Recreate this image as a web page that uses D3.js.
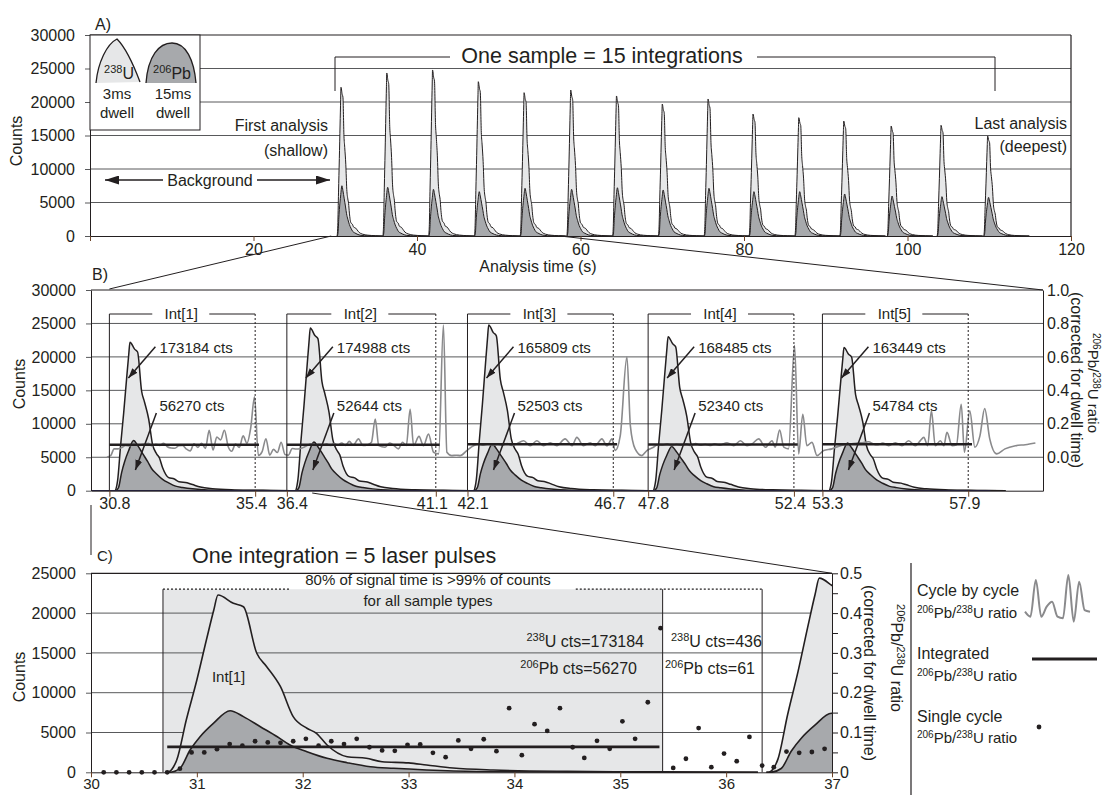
<!DOCTYPE html>
<html>
<head>
<meta charset="utf-8">
<script src="https://cdn.jsdelivr.net/npm/d3@7"></script>
<style>
  body { margin: 0; background: #fff; }
  svg { display: block; font-family: 'Liberation Sans', Arial, sans-serif; }
</style>
</head>
<body>
<svg id="chart" width="1105" height="795"></svg>
<script>
'use strict';

var pulseTimes = [0, 0.02, 0.08, 0.11, 0.2, 0.3, 0.39, 0.46, 0.5, 0.645, 0.74, 0.866, 0.96, 1.09, 1.21, 1.34, 1.43, 1.53, 1.72, 1.9, 2.05, 2.3, 2.47, 2.72, 3.1, 3.8, 4.7, 5.6];
var pulseU = [0, 0, 700, 1540, 6570, 11600, 16620, 20390, 22270, 21230, 20800, 14950, 13270, 10750, 6990, 5530, 4900, 3430, 1960, 1760, 1330, 1180, 920, 540, 290, 120, 50, 0];
var pulsePbTimes = [0, 0.04, 0.14, 0.236, 0.33, 0.456, 0.614, 0.74, 0.9, 1.06, 1.18, 1.34, 1.53, 1.72, 1.94, 2.16, 2.47, 2.95, 3.8, 5.6];
var pulsePb = [0, 0, 500, 2800, 4470, 6150, 7740, 6990, 5730, 4470, 3430, 2590, 1760, 1210, 700, 500, 290, 100, 30, 0];

// panel A: 15 integrations
var aPulseStart = [30.2, 35.8, 41.4, 47.0, 52.6, 58.3, 63.9, 69.5, 75.1, 80.6, 86.2, 91.7, 97.5, 103.6, 109.3];
var aPeakU = [22200, 24330, 24780, 23030, 21390, 21790, 20900, 19700, 20450, 18200, 17660, 17160, 16420, 16520, 14930];
var aPeakPb = [7500, 7270, 6970, 6620, 7120, 6970, 7200, 6870, 7120, 6620, 6620, 6270, 5970, 5870, 5770];

// panel B: first five integrations
var intNames = ['Int[1]', 'Int[2]', 'Int[3]', 'Int[4]', 'Int[5]'];
var intStart = [30.8, 36.4, 42.1, 47.8, 53.3];
var intEnd = [35.4, 41.1, 46.7, 52.4, 57.9];
var bPulseStart = [30.95, 36.64, 42.27, 47.93, 53.48];
var intCountsU = [173184, 174988, 165809, 168485, 163449];
var intCountsPb = [56270, 52644, 52503, 52340, 54784];
var intRatio = [0.075, 0.075, 0.078, 0.076, 0.078];

// single cycle 206Pb/238U ratio [time s, ratio]
var cycleRatios = [
  [30.12, 0], [30.24, 0], [30.36, 0], [30.48, 0], [30.60, 0], [30.72, 0], [30.84, 0.009], [30.95, 0.050],
  [31.07, 0.050], [31.19, 0.058], [31.31, 0.071], [31.43, 0.067], [31.55, 0.078], [31.67, 0.075], [31.79, 0.074],
  [31.91, 0.078], [32.03, 0.084], [32.15, 0.067], [32.27, 0.078], [32.39, 0.071], [32.51, 0.084], [32.63, 0.063],
  [32.75, 0.055], [32.87, 0.054], [32.99, 0.069], [33.11, 0.070], [33.23, 0.049], [33.35, 0.038], [33.47, 0.080],
  [33.59, 0.059], [33.71, 0.083], [33.83, 0.053], [33.95, 0.161], [34.07, 0.043], [34.19, 0.121], [34.31, 0.104],
  [34.43, 0.161], [34.55, 0.063], [34.66, 0.036], [34.78, 0.079], [34.90, 0.059], [35.02, 0.128], [35.14, 0.084],
  [35.26, 0.176], [35.38, 0.362], [35.50, 0.011], [35.62, 0.034], [35.74, 0.111], [35.86, 0.013], [35.98, 0.047],
  [36.10, 0.028], [36.22, 0.089], [36.34, 0.017], [36.45, 0.013], [36.57, 0.052], [36.69, 0.049], [36.81, 0.051],
  [36.93, 0.059], [37.05, 0.072], [37.17, 0.080], [37.29, 0.070], [37.41, 0.078], [37.53, 0.074], [37.65, 0.080],
  [37.77, 0.070], [37.89, 0.082], [38.01, 0.072], [38.13, 0.085], [38.25, 0.070], [38.37, 0.095], [38.49, 0.072],
  [38.66, 0.110], [38.80, 0.070], [38.95, 0.075], [39.07, 0.090], [39.19, 0.228], [39.30, 0.070], [39.50, 0.060],
  [39.65, 0.085], [39.78, 0.070], [39.92, 0.050], [40.05, 0.090], [40.17, 0.070], [40.29, 0.287], [40.40, 0.070],
  [40.57, 0.125], [40.71, 0.069], [40.87, 0.138], [41.03, 0.030], [41.19, 0.020], [41.34, 0.790], [41.45, 0.030],
  [41.60, 0.010], [41.75, 0.012], [41.87, 0.010], [42.08, 0.040], [42.29, 0.069], [42.45, 0.078], [42.60, 0.072],
  [42.75, 0.080], [42.90, 0.070], [43.05, 0.078], [43.20, 0.072], [43.35, 0.082], [43.50, 0.070], [43.65, 0.080],
  [43.87, 0.099], [44.08, 0.069], [44.29, 0.099], [44.50, 0.069], [44.71, 0.087], [44.92, 0.069], [45.18, 0.110],
  [45.40, 0.069], [45.55, 0.119], [45.76, 0.069], [45.97, 0.087], [46.13, 0.069], [46.34, 0.110], [46.50, 0.069],
  [46.66, 0.110], [46.76, 0.040], [46.92, 0.128], [47.13, 0.600], [47.24, 0.188], [47.39, 0.050], [47.60, 0.010],
  [47.76, 0.040], [47.97, 0.060], [48.10, 0.075], [48.25, 0.072], [48.40, 0.080], [48.55, 0.070], [48.70, 0.078],
  [48.85, 0.072], [49.00, 0.080], [49.15, 0.070], [49.30, 0.082], [49.45, 0.072], [49.60, 0.078], [49.75, 0.070],
  [49.90, 0.080], [50.05, 0.072], [50.29, 0.087], [50.50, 0.069], [50.71, 0.099], [50.92, 0.069], [51.08, 0.080],
  [51.29, 0.110], [51.50, 0.060], [51.71, 0.099], [51.81, 0.060], [51.95, 0.162], [52.08, 0.060], [52.23, 0.050],
  [52.42, 0.669], [52.55, 0.020], [52.68, 0.257], [52.81, 0.069], [52.97, 0.089], [53.13, 0.010], [53.34, 0.040],
  [53.60, 0.050], [53.80, 0.065], [54.00, 0.075], [54.20, 0.080], [54.40, 0.085], [54.60, 0.088], [54.76, 0.093],
  [54.90, 0.080], [55.05, 0.075], [55.20, 0.085], [55.39, 0.069], [55.60, 0.087], [55.81, 0.069], [56.02, 0.099],
  [56.23, 0.069], [56.39, 0.099], [56.50, 0.119], [56.62, 0.069], [56.74, 0.277], [56.86, 0.069], [57.02, 0.099],
  [57.13, 0.069], [57.23, 0.149], [57.39, 0.069], [57.53, 0.075], [57.68, 0.317], [57.78, 0.030], [57.95, 0.277],
  [58.11, 0.060], [58.27, 0.128], [58.42, 0.291], [58.58, 0.110], [58.80, 0.020], [59.06, 0.050], [59.39, 0.069],
  [59.70, 0.075], [60.02, 0.085]
];

// panel C: zoom on Int[1]
var cPulseStart = [30.7, 36.38];
var cPeakU = [22270, 24400];
var cPeakPb = [7740, 7410];
var cIntRatio = 0.064;
var cWindow = [30.68, 35.4, 36.34];
var cWindowTop = 23000;

var countTicksA = [0, 5000, 10000, 15000, 20000, 25000, 30000];
var timeTicksA = [0, 20, 40, 60, 80, 100, 120];
var ratioTicksB = [0, 0.2, 0.4, 0.6, 0.8, 1.0];
var countTicksC = [0, 5000, 10000, 15000, 20000, 25000];
var timeTicksC = [30, 31, 32, 33, 34, 35, 36, 37];
var ratioTicksC = [0, 0.05, 0.1, 0.15, 0.2, 0.25, 0.3, 0.35, 0.4, 0.45, 0.5];
var legendSquiggle = [0.118, 0.066, 0.448, 0.066, 0.17, 0.222, 0.066, 0.049, 0.5, 0.014, 0.43, 0.135, 0.118];

var INK = '#231f20';
var GRID = '#58595b';
var U_FILL = '#e6e7e8';
var PB_FILL = '#a7a9ac';
var TICK = '#6b4226';
var RATIO_GRAY = '#8a8a8c';
var intFmt = d3.format('d');

var svg = d3.select('#chart');
var defs = svg.append('defs');

function addMarker(id, w, h){
  defs.append('marker')
    .attr('id', id)
    .attr('viewBox', '0 0 10 10')
    .attr('preserveAspectRatio', 'none')
    .attr('refX', 10).attr('refY', 5)
    .attr('markerWidth', w).attr('markerHeight', h)
    .attr('markerUnits', 'userSpaceOnUse')
    .attr('orient', 'auto')
    .append('path').attr('d', 'M0,0L10,5L0,10Z').attr('fill', INK);
}
addMarker('arrow', 10, 7);
addMarker('bigArrow', 14, 9);

function addClip(id, x0, y0, x1, y1){
  defs.append('clipPath').attr('id', id)
    .append('rect').attr('x', x0).attr('y', y0).attr('width', x1 - x0).attr('height', y1 - y0);
}

function pulseSeries(times, values, t0, peak){
  var k = peak / d3.max(values);
  return times.map(function(t, i){ return {t: t0 + t, v: values[i] * k}; });
}

function drawPulse(g, d, x, y, w){
  var area = d3.area()
    .x(function(p){ return x(p.t); })
    .y0(y(0))
    .y1(function(p){ return y(p.v); })
    .curve(d3.curveMonotoneX);
  var line = area.lineY1();
  g.append('path').datum(d.u).attr('d', area).attr('fill', U_FILL);
  g.append('path').datum(d.pb).attr('d', area).attr('fill', PB_FILL);
  g.append('path').datum(d.u).attr('d', line).attr('fill', 'none').attr('stroke', INK).attr('stroke-width', w);
  g.append('path').datum(d.pb).attr('d', line).attr('fill', 'none').attr('stroke', INK).attr('stroke-width', w);
}

function richText(parent, parts, size){
  var text = parent.append('text').style('font-size', size + 'px').attr('fill', INK);
  var raised = false;
  parts.forEach(function(p){
    var span = text.append('tspan').text(p[0]);
    if(p[1]){
      span.style('font-size', Math.round(size * 0.66) + 'px');
      if(!raised){ span.attr('dy', -size * 0.36); raised = true; }
    } else if(raised){
      span.attr('dy', size * 0.36);
      raised = false;
    }
  });
  return text;
}
var ratioParts = [['206', true], ['Pb/', false], ['238', true], ['U ratio', false]];

function label(x, y, str, size, anchor){
  return svg.append('text')
    .attr('x', x).attr('y', y)
    .attr('text-anchor', anchor || 'start')
    .attr('fill', INK)
    .style('font-size', size + 'px')
    .text(str);
}

function seg(x1, y1, x2, y2, w, dash){
  return svg.append('line')
    .attr('x1', x1).attr('y1', y1).attr('x2', x2).attr('y2', y2)
    .attr('stroke', INK).attr('stroke-width', w || 1)
    .attr('stroke-dasharray', dash || null);
}

function styleAxis(g, tickColor, size){
  g.attr('font-family', null).attr('font-size', null).attr('color', INK);
  g.selectAll('.tick text').style('font-size', (size || 16) + 'px').attr('fill', INK);
  g.selectAll('.tick line').attr('stroke', tickColor);
}

function grid(values, x0, x1, y){
  svg.append('g').selectAll('line').data(values).join('line')
    .attr('x1', x0).attr('x2', x1)
    .attr('y1', function(d){ return y(d); })
    .attr('y2', function(d){ return y(d); })
    .attr('stroke', GRID).attr('stroke-width', 1);
}

// ---------- panel A ----------
var xA = d3.scaleLinear().domain([0, 120]).range([90, 1071]);
var yA = d3.scaleLinear().domain([0, 30000]).range([236, 35]);

grid(countTicksA.slice(1, -1), xA(0), xA(120), yA);

var aPulses = aPulseStart.map(function(t0, i){
  return {
    u: pulseSeries(pulseTimes, pulseU, t0, aPeakU[i]),
    pb: pulseSeries(pulsePbTimes, pulsePb, t0, aPeakPb[i])
  };
});
svg.append('g').selectAll('g').data(aPulses).join('g')
  .each(function(d){ drawPulse(d3.select(this), d, xA, yA, 1); });

seg(xA(0), yA(30000), xA(120), yA(30000), 1.2);
seg(xA(120), yA(30000), xA(120), yA(0), 1.2);

svg.append('g').attr('transform', 'translate(' + xA(0) + ',0)')
  .call(d3.axisLeft(yA).tickValues(countTicksA).tickSize(5).tickSizeOuter(0).tickPadding(10).tickFormat(intFmt))
  .call(styleAxis, GRID);
svg.append('g').attr('transform', 'translate(0,' + yA(0) + ')')
  .call(d3.axisBottom(xA).tickValues(timeTicksA).tickSize(5).tickSizeOuter(0).tickPadding(3)
    .tickFormat(function(d){ return d === 0 ? '' : d; }))
  .call(styleAxis, TICK);

label(95, 30, 'A)', 16);
label(538, 272, 'Analysis time (s)', 16, 'middle');
label(0, 0, 'Counts', 16, 'middle').attr('transform', 'translate(22,141) rotate(-90)');

// isotope legend box
svg.append('rect').attr('x', 90).attr('y', 35).attr('width', 110).attr('height', 95)
  .attr('fill', '#fff').attr('stroke', INK).attr('stroke-width', 1);
svg.append('path').attr('d', 'M96,83 C98,62 107,44 117,39 C126,48 134,66 140,82 Z').attr('fill', U_FILL);
svg.append('path').attr('d', 'M96,83 C98,62 107,44 117,39 C126,48 134,66 140,82').attr('fill', 'none').attr('stroke', INK).attr('stroke-width', 1.3);
svg.append('path').attr('d', 'M146,83 C148,56 159,43 172,43 C186,43 194,60 196,83 Z').attr('fill', PB_FILL);
svg.append('path').attr('d', 'M146,83 C148,56 159,43 172,43 C186,43 194,60 196,83').attr('fill', 'none').attr('stroke', INK).attr('stroke-width', 1.3);
richText(svg, [['238', true], ['U', false]], 16).attr('x', 119).attr('y', 79).attr('text-anchor', 'middle');
richText(svg, [['206', true], ['Pb', false]], 16).attr('x', 172).attr('y', 79).attr('text-anchor', 'middle');
label(117, 99, '3ms', 15, 'middle');
label(117, 118, 'dwell', 15, 'middle');
label(173, 99, '15ms', 15, 'middle');
label(173, 118, 'dwell', 15, 'middle');

// one sample bracket
seg(335, 57, 450, 57);
seg(757, 57, 995, 57);
seg(335, 57, 335, 91);
seg(995, 57, 995, 91);
label(602, 63, 'One sample = 15 integrations', 21.5, 'middle');

label(328, 131, 'First analysis', 16, 'end');
label(328, 156, '(shallow)', 16, 'end');
label(1067, 129, 'Last analysis', 16, 'end');
label(1067, 152, '(deepest)', 16, 'end');

seg(163, 180, 105, 180, 1.5).attr('marker-end', 'url(#bigArrow)');
seg(257, 180, 330, 180, 1.5).attr('marker-end', 'url(#bigArrow)');
label(210, 186, 'Background', 16, 'middle');

// ---------- panel B ----------
var xB = d3.scaleLinear().domain([30.22, 60.26]).range([91, 1043]);
var yB = d3.scaleLinear().domain([0, 30000]).range([490.7, 290]);
var rB = d3.scaleLinear().domain([-0.2, 1.0]).range([490.7, 290]);
addClip('clipB', 91, 290, 1043, 491);

grid(countTicksA.slice(1, -1), xB.range()[0], xB.range()[1], yB);

var gB = svg.append('g').attr('clip-path', 'url(#clipB)');
var bPulses = bPulseStart.map(function(t0, i){
  return {
    u: pulseSeries(pulseTimes, pulseU, t0, aPeakU[i]),
    pb: pulseSeries(pulsePbTimes, pulsePb, t0, aPeakPb[i])
  };
});
gB.append('g').selectAll('g').data(bPulses).join('g')
  .each(function(d){ drawPulse(d3.select(this), d, xB, yB, 1.5); });

gB.append('line')
  .attr('x1', xB(30.22)).attr('x2', xB(58.6))
  .attr('y1', yB(0)).attr('y2', yB(0))
  .attr('stroke', '#262345').attr('stroke-width', 1.6);

var ratioLine = d3.line()
  .x(function(d){ return xB(d[0]); })
  .y(function(d){ return rB(d[1]); })
  .curve(d3.curveMonotoneX);
gB.append('path')
  .datum(cycleRatios.filter(function(d){ return d[0] >= 30.7; }))
  .attr('d', ratioLine)
  .attr('fill', 'none').attr('stroke', RATIO_GRAY).attr('stroke-width', 1.6);

gB.append('g').selectAll('line').data(intStart).join('line')
  .attr('x1', function(d){ return xB(d); })
  .attr('x2', function(d, i){ return xB(intEnd[i] + 0.12); })
  .attr('y1', function(d, i){ return rB(intRatio[i]); })
  .attr('y2', function(d, i){ return rB(intRatio[i]); })
  .attr('stroke', INK).attr('stroke-width', 2.6);

// integration brackets and counts
intStart.forEach(function(t0, i){
  var x0 = xB(t0), x1 = xB(intEnd[i]), mid = (x0 + x1) / 2, yb = 314;
  seg(x0, yb, x0, yB(0));
  seg(x1, yb, x1, yB(0), 1, '2,2');
  seg(x0, yb, mid - 30, yb);
  seg(mid + 27, yb, x1, yb);
  label(mid - 1, yb + 5, intNames[i], 15, 'middle');

  label(x0 + 50, yB(20600), intCountsU[i] + ' cts', 15);
  seg(x0 + 46, yB(21500), x0 + 19, yB(16850), 1.5).attr('marker-end', 'url(#arrow)');
  label(x0 + 50, yB(11950), intCountsPb[i] + ' cts', 15);
  seg(x0 + 47, yB(11600), x0 + 26, yB(3100), 1.5).attr('marker-end', 'url(#arrow)');
});

seg(xB(30.22), yB(30000), xB(60.26), yB(30000), 1.2);

svg.append('g').attr('transform', 'translate(' + xB(30.22) + ',0)')
  .call(d3.axisLeft(yB).tickValues(countTicksA).tickSize(5).tickSizeOuter(0).tickPadding(10).tickFormat(intFmt))
  .call(styleAxis, GRID);
svg.append('g').attr('transform', 'translate(' + xB(60.26) + ',0)')
  .call(d3.axisRight(rB).tickValues(ratioTicksB).tickSize(0).tickSizeOuter(0).tickPadding(4)
    .tickFormat(d3.format('.1f')))
  .call(styleAxis, GRID);
svg.append('g').attr('transform', 'translate(0,' + yB(0) + ')')
  .call(d3.axisBottom(xB).tickValues(intStart.concat(intEnd)).tickSize(6).tickSizeOuter(0).tickPadding(1)
    .tickFormat(d3.format('.1f')))
  .call(styleAxis, TICK)
  .call(function(g){
    g.selectAll('.tick text').attr('dx', function(d){ return intStart.indexOf(d) >= 0 ? 5 : -4; });
  });

label(92, 280, 'B)', 16);
label(0, 0, 'Counts', 16, 'middle').attr('transform', 'translate(25,384) rotate(-90)');
label(0, 0, '(corrected for dwell time)', 16, 'middle').attr('transform', 'translate(1071,380) rotate(90)');
richText(svg, ratioParts, 15).attr('text-anchor', 'middle').attr('transform', 'translate(1088,383) rotate(90)');

// ---------- panel C ----------
var xC = d3.scaleLinear().domain([30, 37]).range([91, 832]);
var yC = d3.scaleLinear().domain([0, 25000]).range([772.3, 573.3]);
var rC = d3.scaleLinear().domain([0, 0.5]).range([772.3, 573.3]);
addClip('clipC', 91, 560, 832, 773);

svg.append('rect')
  .attr('x', xC(cWindow[0])).attr('y', yC(cWindowTop))
  .attr('width', xC(cWindow[1]) - xC(cWindow[0]))
  .attr('height', yC(0) - yC(cWindowTop))
  .attr('fill', U_FILL);

grid(countTicksC.slice(1, -1), xC(30), xC(37), yC);

var gC = svg.append('g').attr('clip-path', 'url(#clipC)');
var cPulses = cPulseStart.map(function(t0, i){
  return {
    u: pulseSeries(pulseTimes, pulseU, t0, cPeakU[i]),
    pb: pulseSeries(pulsePbTimes, pulsePb, t0, cPeakPb[i])
  };
});
gC.append('g').selectAll('g').data(cPulses).join('g')
  .each(function(d){ drawPulse(d3.select(this), d, xC, yC, 1.6); });

cWindow.forEach(function(t){ seg(xC(t), yC(cWindowTop), xC(t), yC(0), 1); });

seg(xC(30.72), rC(cIntRatio), xC(35.37), rC(cIntRatio), 2.6);

svg.append('g').selectAll('circle')
  .data(cycleRatios.filter(function(d){ return d[0] <= 37; }))
  .join('circle')
  .attr('cx', function(d){ return xC(d[0]); })
  .attr('cy', function(d){ return rC(d[1]); })
  .attr('r', 2.4)
  .attr('fill', INK);

seg(xC(30), yC(25000), xC(37), yC(25000), 1.2);

svg.append('g').attr('transform', 'translate(' + xC(30) + ',0)')
  .call(d3.axisLeft(yC).tickValues(countTicksC).tickSize(5).tickSizeOuter(0).tickPadding(10).tickFormat(intFmt))
  .call(styleAxis, GRID);
svg.append('g').attr('transform', 'translate(' + xC(37) + ',0)')
  .call(d3.axisRight(rC).tickValues(ratioTicksC).tickSize(6).tickSizeOuter(0).tickPadding(2)
    .tickFormat(function(d){
      var k = Math.round(d * 100);
      if(k % 10) return '';
      return k === 0 ? '0' : d3.format('.1f')(d);
    }))
  .call(styleAxis, INK);
svg.append('g').attr('transform', 'translate(0,' + yC(0) + ')')
  .call(d3.axisBottom(xC).tickValues(timeTicksC).tickSize(5).tickSizeOuter(0).tickPadding(1).tickFormat(intFmt))
  .call(styleAxis, TICK, 15);

label(97, 561, 'C)', 15);
label(192, 563, 'One integration = 5 laser pulses', 21.5);
label(0, 0, 'Counts', 16, 'middle').attr('transform', 'translate(25,677) rotate(-90)');
label(0, 0, '(corrected for dwell time)', 16, 'middle').attr('transform', 'translate(864,673) rotate(90)');
richText(svg, ratioParts, 16).attr('text-anchor', 'middle').attr('transform', 'translate(891,658) rotate(90)');

var note = label(428, 585, '80% of signal time is >99% of counts', 15, 'middle');
label(428, 606, 'for all sample types', 15, 'middle');
var noteW = note.node().getComputedTextLength();
seg(xC(cWindow[0]), yC(cWindowTop), 428 - noteW / 2 - 15, yC(cWindowTop), 1.2, '2,2');
seg(428 + noteW / 2 + 25, yC(cWindowTop), xC(cWindow[2]), yC(cWindowTop), 1.2, '2,2');

label(xC(31.3), 682, 'Int[1]', 15, 'middle');
richText(svg, [['238', true], ['U cts=173184', false]], 16).attr('x', 644).attr('y', 647).attr('text-anchor', 'end');
richText(svg, [['206', true], ['Pb cts=56270', false]], 16).attr('x', 637).attr('y', 674).attr('text-anchor', 'end');
richText(svg, [['238', true], ['U cts=436', false]], 16).attr('x', 671).attr('y', 647);
richText(svg, [['206', true], ['Pb cts=61', false]], 16).attr('x', 665).attr('y', 674);

// connectors between panels
seg(xA(29.5), yA(0), xB(30.8), yB(30000) - 1, 1);
seg(xA(57.5), yA(0), xB(60.26), yB(30000), 1);
seg(xB(30.22), 505, xC(30), 555, 1);
seg(xB(37.2), 493, xC(37), yC(25000), 1);

// legend
seg(911, 563, 911, 795, 1.2);
label(917, 596, 'Cycle by cycle', 16);
richText(svg, ratioParts, 15).attr('x', 917).attr('y', 618);
label(917, 659, 'Integrated', 16);
richText(svg, ratioParts, 15).attr('x', 917).attr('y', 681);
label(917, 722, 'Single cycle', 16);
richText(svg, ratioParts, 15).attr('x', 917).attr('y', 743);

var sx = d3.scaleLinear().domain([0, legendSquiggle.length - 1]).range([1025, 1090]);
var sy = d3.scaleLinear().domain([0, 0.5]).range([623, 575]);
svg.append('path')
  .datum(legendSquiggle)
  .attr('d', d3.line().x(function(d, i){ return sx(i); }).y(function(d){ return sy(d); }).curve(d3.curveMonotoneX))
  .attr('fill', 'none').attr('stroke', RATIO_GRAY).attr('stroke-width', 2);
seg(1032, 659, 1097, 659, 2.8);
svg.append('circle').attr('cx', 1039).attr('cy', 727).attr('r', 2.4).attr('fill', INK);
</script>
</body>
</html>
